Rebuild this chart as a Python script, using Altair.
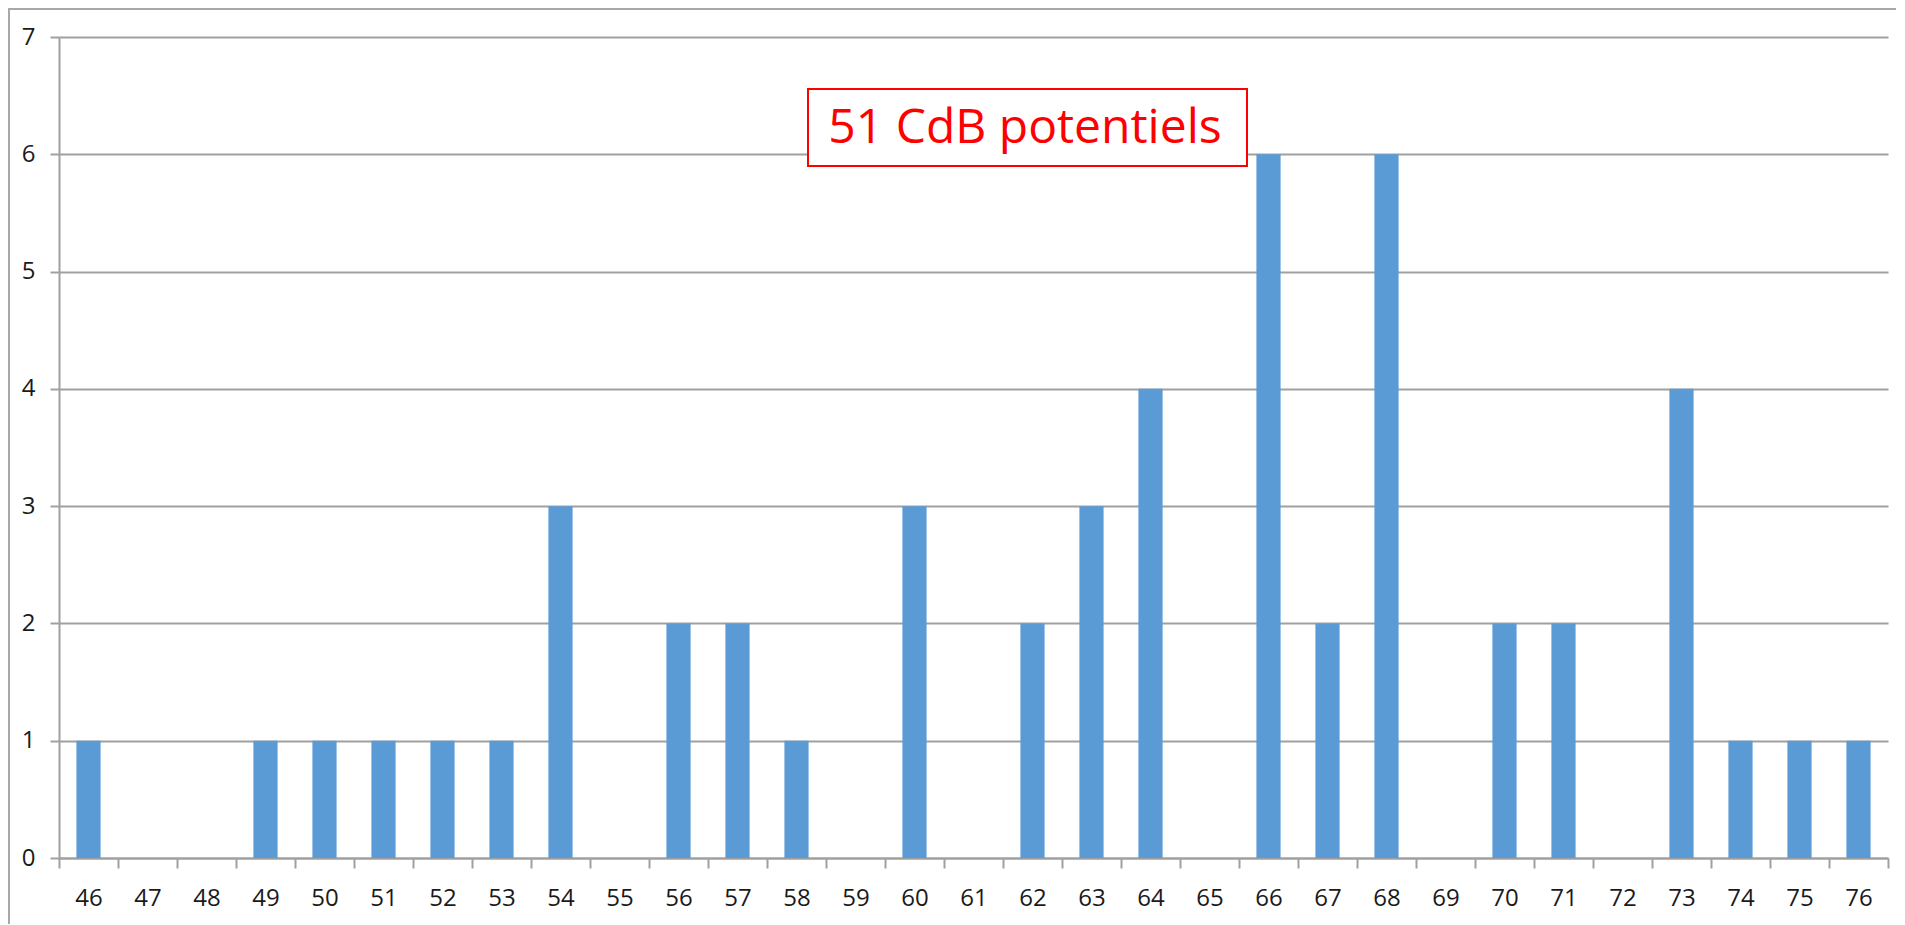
import altair as alt
import pandas as pd

scores = [str(s) for s in range(46, 77)]
counts = [1, 0, 0, 1, 1, 1, 1, 1, 3, 0, 2, 2, 1, 0, 3, 0, 2, 3, 4, 0, 6, 2, 6, 0, 2, 2, 0, 4, 1, 1, 1]
y_ticks = [0, 1, 2, 3, 4, 5, 6, 7]
note = ["51 CdB potentiels"]

df = pd.DataFrame({"score": scores, "count": counts})

W, H = 1829, 821
GRID = "#a0a0a0"

bars = alt.Chart(df).mark_bar(color="#5b9bd5", width=alt.RelativeBandSize(0.41)).encode(
    x=alt.X(
        "score:N", sort=None, title=None,
        scale=alt.Scale(paddingInner=0, paddingOuter=0),
        axis=alt.Axis(
            labelAngle=0, tickBand="extent", tickSize=10, tickColor=GRID, tickWidth=2,
            domainColor=GRID, domainWidth=2, labelPadding=18, labelFontSize=24,
            labelFont="Open Sans", labelColor="#1a1a1a", grid=False,
        ),
    ),
    y=alt.Y(
        "count:Q", title=None,
        scale=alt.Scale(domain=[0, 7], nice=False),
        axis=alt.Axis(
            values=y_ticks, tickSize=9, tickColor=GRID, tickWidth=2,
            domainColor=GRID, domainWidth=2, labelPadding=15, labelFontSize=24,
            labelFont="Open Sans", labelColor="#1a1a1a", grid=True,
            gridColor=GRID, gridWidth=2,
        ),
    ),
)

one = pd.DataFrame({"t": note})

frame = alt.Chart(one).mark_rect(fill="transparent", stroke="#a8a8a8", strokeWidth=2).encode(
    x=alt.value(-50), x2=alt.value(W + 300), y=alt.value(-28), y2=alt.value(H + 300)
)

box = alt.Chart(one).mark_rect(fill="white", stroke="#ff0000", strokeWidth=2).encode(
    x=alt.value(749), x2=alt.value(1188), y=alt.value(52), y2=alt.value(129)
)

label = alt.Chart(one).mark_text(
    color="#ff0000", font="Open Sans", fontSize=48, align="center", baseline="alphabetic"
).encode(x=alt.value(966), y=alt.value(106), text="t:N")

chart = alt.layer(frame, bars, box, label).properties(
    width=W, height=H,
    autosize=alt.AutoSizeParams(type="none"),
    padding={"left": 51, "top": 29, "right": 8, "bottom": 66},
).configure_view(stroke=None)

chart.save("out.html", embed_options={"renderer": "svg", "actions": False})
